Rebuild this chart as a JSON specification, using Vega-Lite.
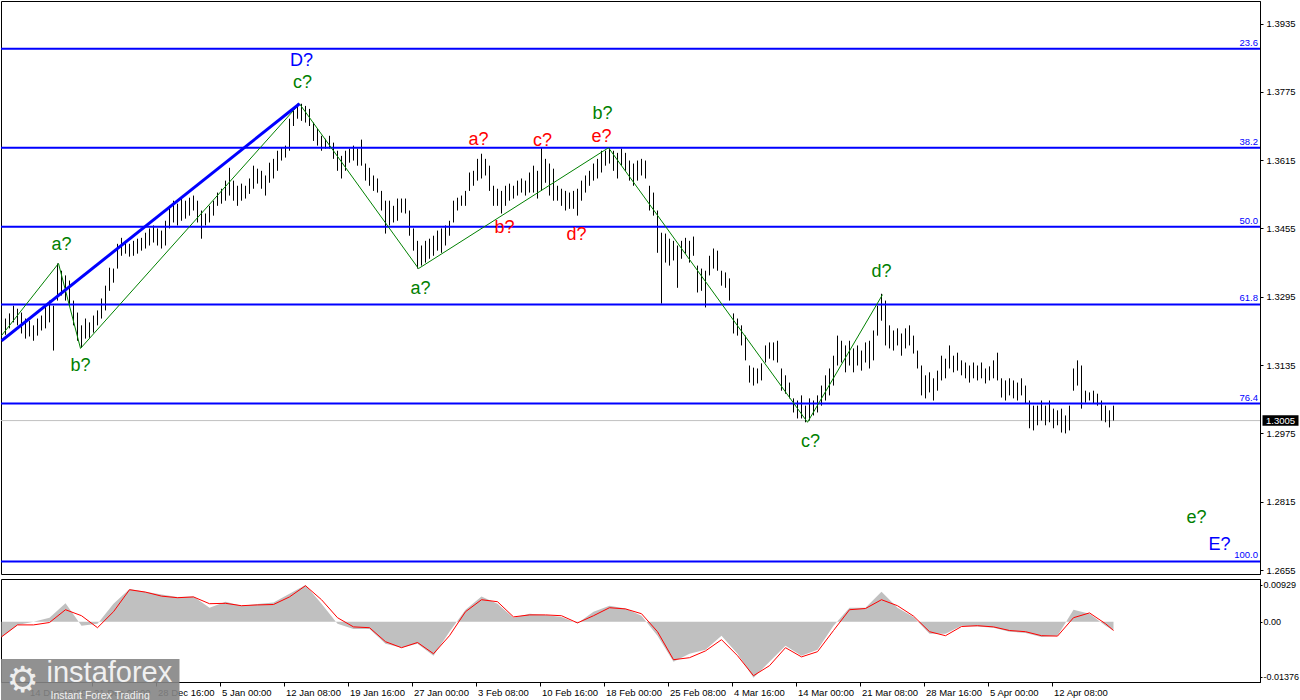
{
"$schema": "https://vega.github.io/schema/vega-lite/v6.json",
"padding": 0,
"background": "white",
"spacing": 2,
"config": {"view": {"stroke": "black", "strokeWidth": 1}, "axis": {"labelFont": "Liberation Sans", "labelFontSize": 9.5, "labelColor": "black", "domainColor": "black", "tickColor": "black", "grid": false}, "text": {"font": "Liberation Sans"}},
"datasets": {
"bars": [
{"b":0,"h":1.3235,"l":1.3197},{"b":2,"h":1.3244,"l":1.3206},{"b":4,"h":1.3256,"l":1.3221},{"b":6,"h":1.3274,"l":1.3235},{"b":8,"h":1.3267,"l":1.3228},{"b":10,"h":1.3258,"l":1.3209},{"b":12,"h":1.3244,"l":1.3197},{"b":14,"h":1.3239,"l":1.3202},{"b":16,"h":1.3228,"l":1.3192},{"b":18,"h":1.3244,"l":1.3204},
{"b":20,"h":1.3251,"l":1.3216},{"b":22,"h":1.3274,"l":1.3221},{"b":24,"h":1.3286,"l":1.3235},{"b":26,"h":1.3274,"l":1.3169},{"b":28,"h":1.3373,"l":1.3286},{"b":30,"h":1.3356,"l":1.3298},{"b":32,"h":1.3345,"l":1.3286},{"b":34,"h":1.3333,"l":1.3274},{"b":36,"h":1.3286,"l":1.3228},{"b":38,"h":1.3258,"l":1.3192},
{"b":40,"h":1.3228,"l":1.3176},{"b":42,"h":1.3244,"l":1.3197},{"b":44,"h":1.3235,"l":1.3199},{"b":46,"h":1.3251,"l":1.3211},{"b":48,"h":1.3263,"l":1.3228},{"b":50,"h":1.3291,"l":1.3244},{"b":52,"h":1.3321,"l":1.3263},{"b":54,"h":1.3363,"l":1.3309},{"b":56,"h":1.3361,"l":1.3328},{"b":58,"h":1.3419,"l":1.3361},
{"b":60,"h":1.3433,"l":1.3391},{"b":62,"h":1.3426,"l":1.3396},{"b":64,"h":1.3419,"l":1.3389},{"b":66,"h":1.3426,"l":1.3391},{"b":68,"h":1.3431,"l":1.3396},{"b":70,"h":1.3433,"l":1.3403},{"b":72,"h":1.3445,"l":1.3408},{"b":74,"h":1.3455,"l":1.3415},{"b":76,"h":1.3462,"l":1.3422},{"b":78,"h":1.3455,"l":1.3415},
{"b":80,"h":1.3450,"l":1.3408},{"b":82,"h":1.3473,"l":1.3415},{"b":84,"h":1.3508,"l":1.3455},{"b":86,"h":1.3520,"l":1.3469},{"b":88,"h":1.3513,"l":1.3462},{"b":90,"h":1.3525,"l":1.3473},{"b":92,"h":1.3520,"l":1.3478},{"b":94,"h":1.3527,"l":1.3485},{"b":96,"h":1.3532,"l":1.3497},{"b":98,"h":1.3520,"l":1.3469},
{"b":100,"h":1.3497,"l":1.3431},{"b":102,"h":1.3490,"l":1.3462},{"b":104,"h":1.3508,"l":1.3469},{"b":106,"h":1.3520,"l":1.3485},{"b":108,"h":1.3539,"l":1.3508},{"b":110,"h":1.3548,"l":1.3513},{"b":112,"h":1.3567,"l":1.3520},{"b":114,"h":1.3597,"l":1.3532},{"b":116,"h":1.3567,"l":1.3520},{"b":118,"h":1.3555,"l":1.3508},
{"b":120,"h":1.3560,"l":1.3520},{"b":122,"h":1.3555,"l":1.3525},{"b":124,"h":1.3572,"l":1.3536},{"b":126,"h":1.3602,"l":1.3548},{"b":128,"h":1.3595,"l":1.3560},{"b":130,"h":1.3590,"l":1.3548},{"b":132,"h":1.3579,"l":1.3532},{"b":134,"h":1.3609,"l":1.3562},{"b":136,"h":1.3618,"l":1.3572},{"b":138,"h":1.3637,"l":1.3590},
{"b":140,"h":1.3644,"l":1.3614},{"b":142,"h":1.3649,"l":1.3621},{"b":144,"h":1.3712,"l":1.3637},{"b":146,"h":1.3731,"l":1.3695},{"b":148,"h":1.3747,"l":1.3712},{"b":150,"h":1.3747,"l":1.3707},{"b":152,"h":1.3742,"l":1.3703},{"b":154,"h":1.3735,"l":1.3695},{"b":156,"h":1.3703,"l":1.3660},{"b":158,"h":1.3688,"l":1.3649},
{"b":160,"h":1.3672,"l":1.3637},{"b":162,"h":1.3665,"l":1.3642},{"b":164,"h":1.3672,"l":1.3642},{"b":166,"h":1.3656,"l":1.3618},{"b":168,"h":1.3637,"l":1.3590},{"b":170,"h":1.3625,"l":1.3572},{"b":172,"h":1.3637,"l":1.3590},{"b":174,"h":1.3642,"l":1.3609},{"b":176,"h":1.3649,"l":1.3614},{"b":178,"h":1.3642,"l":1.3602},
{"b":180,"h":1.3663,"l":1.3602},{"b":182,"h":1.3607,"l":1.3567},{"b":184,"h":1.3597,"l":1.3555},{"b":186,"h":1.3579,"l":1.3543},{"b":188,"h":1.3572,"l":1.3539},{"b":190,"h":1.3543,"l":1.3497},{"b":192,"h":1.3520,"l":1.3443},{"b":194,"h":1.3520,"l":1.3462},{"b":196,"h":1.3508,"l":1.3469},{"b":198,"h":1.3525,"l":1.3473},
{"b":200,"h":1.3525,"l":1.3492},{"b":202,"h":1.3525,"l":1.3490},{"b":204,"h":1.3497,"l":1.3438},{"b":206,"h":1.3455,"l":1.3403},{"b":208,"h":1.3426,"l":1.3361},{"b":210,"h":1.3415,"l":1.3368},{"b":212,"h":1.3426,"l":1.3375},{"b":214,"h":1.3431,"l":1.3384},{"b":216,"h":1.3438,"l":1.3391},{"b":218,"h":1.3450,"l":1.3403},
{"b":220,"h":1.3455,"l":1.3398},{"b":222,"h":1.3462,"l":1.3415},{"b":224,"h":1.3473,"l":1.3438},{"b":226,"h":1.3520,"l":1.3469},{"b":228,"h":1.3527,"l":1.3497},{"b":230,"h":1.3532,"l":1.3508},{"b":232,"h":1.3543,"l":1.3508},{"b":234,"h":1.3586,"l":1.3543},{"b":236,"h":1.3590,"l":1.3555},{"b":238,"h":1.3618,"l":1.3567},
{"b":240,"h":1.3630,"l":1.3572},{"b":242,"h":1.3618,"l":1.3579},{"b":244,"h":1.3602,"l":1.3543},{"b":246,"h":1.3555,"l":1.3508},{"b":248,"h":1.3548,"l":1.3508},{"b":250,"h":1.3543,"l":1.3490},{"b":252,"h":1.3555,"l":1.3508},{"b":254,"h":1.3560,"l":1.3520},{"b":256,"h":1.3555,"l":1.3525},{"b":258,"h":1.3567,"l":1.3532},
{"b":260,"h":1.3572,"l":1.3539},{"b":262,"h":1.3567,"l":1.3532},{"b":264,"h":1.3586,"l":1.3539},{"b":266,"h":1.3602,"l":1.3539},{"b":268,"h":1.3590,"l":1.3525},{"b":270,"h":1.3644,"l":1.3543},{"b":272,"h":1.3618,"l":1.3562},{"b":274,"h":1.3607,"l":1.3532},{"b":276,"h":1.3595,"l":1.3520},{"b":278,"h":1.3555,"l":1.3520},
{"b":280,"h":1.3548,"l":1.3508},{"b":282,"h":1.3543,"l":1.3497},{"b":284,"h":1.3539,"l":1.3501},{"b":286,"h":1.3543,"l":1.3501},{"b":288,"h":1.3548,"l":1.3485},{"b":290,"h":1.3567,"l":1.3520},{"b":292,"h":1.3579,"l":1.3539},{"b":294,"h":1.3590,"l":1.3555},{"b":296,"h":1.3607,"l":1.3567},{"b":298,"h":1.3618,"l":1.3572},
{"b":300,"h":1.3637,"l":1.3586},{"b":302,"h":1.3637,"l":1.3602},{"b":304,"h":1.3644,"l":1.3607},{"b":306,"h":1.3637,"l":1.3590},{"b":308,"h":1.3632,"l":1.3572},{"b":310,"h":1.3642,"l":1.3602},{"b":312,"h":1.3632,"l":1.3590},{"b":314,"h":1.3614,"l":1.3567},{"b":316,"h":1.3607,"l":1.3555},{"b":318,"h":1.3614,"l":1.3567},
{"b":320,"h":1.3618,"l":1.3579},{"b":322,"h":1.3614,"l":1.3572},{"b":324,"h":1.3555,"l":1.3497},{"b":326,"h":1.3539,"l":1.3485},{"b":328,"h":1.3497,"l":1.3398},{"b":330,"h":1.3445,"l":1.3279},{"b":332,"h":1.3443,"l":1.3375},{"b":334,"h":1.3431,"l":1.3368},{"b":336,"h":1.3426,"l":1.3380},{"b":338,"h":1.3415,"l":1.3316},
{"b":340,"h":1.3426,"l":1.3384},{"b":342,"h":1.3433,"l":1.3396},{"b":344,"h":1.3426,"l":1.3375},{"b":346,"h":1.3436,"l":1.3391},{"b":348,"h":1.3368,"l":1.3305},{"b":350,"h":1.3361,"l":1.3309},{"b":352,"h":1.3356,"l":1.3270},{"b":354,"h":1.3391,"l":1.3345},{"b":356,"h":1.3408,"l":1.3361},{"b":358,"h":1.3403,"l":1.3356},
{"b":360,"h":1.3356,"l":1.3321},{"b":362,"h":1.3352,"l":1.3316},{"b":364,"h":1.3338,"l":1.3286},{"b":366,"h":1.3256,"l":1.3209},{"b":368,"h":1.3244,"l":1.3204},{"b":370,"h":1.3228,"l":1.3181},{"b":372,"h":1.3204,"l":1.3146},{"b":374,"h":1.3134,"l":1.3094},{"b":376,"h":1.3129,"l":1.3087},{"b":378,"h":1.3127,"l":1.3092},
{"b":380,"h":1.3139,"l":1.3099},{"b":382,"h":1.3181,"l":1.3141},{"b":384,"h":1.3188,"l":1.3150},{"b":386,"h":1.3188,"l":1.3146},{"b":388,"h":1.3192,"l":1.3141},{"b":390,"h":1.3127,"l":1.3075},{"b":392,"h":1.3111,"l":1.3068},{"b":394,"h":1.3094,"l":1.3057},{"b":396,"h":1.3057,"l":1.3024},{"b":398,"h":1.3052,"l":1.3010},
{"b":400,"h":1.3064,"l":1.3010},{"b":402,"h":1.3040,"l":1.3001},{"b":404,"h":1.3057,"l":1.3005},{"b":406,"h":1.3052,"l":1.3017},{"b":408,"h":1.3064,"l":1.3024},{"b":410,"h":1.3087,"l":1.3040},{"b":412,"h":1.3111,"l":1.3052},{"b":414,"h":1.3127,"l":1.3064},{"b":416,"h":1.3157,"l":1.3087},{"b":418,"h":1.3204,"l":1.3134},
{"b":420,"h":1.3192,"l":1.3141},{"b":422,"h":1.3181,"l":1.3118},{"b":424,"h":1.3192,"l":1.3134},{"b":426,"h":1.3174,"l":1.3118},{"b":428,"h":1.3181,"l":1.3134},{"b":430,"h":1.3169,"l":1.3122},{"b":432,"h":1.3188,"l":1.3141},{"b":434,"h":1.3192,"l":1.3127},{"b":436,"h":1.3216,"l":1.3146},{"b":438,"h":1.3274,"l":1.3204},
{"b":440,"h":1.3302,"l":1.3239},{"b":442,"h":1.3286,"l":1.3181},{"b":444,"h":1.3228,"l":1.3174},{"b":446,"h":1.3216,"l":1.3169},{"b":448,"h":1.3221,"l":1.3181},{"b":450,"h":1.3209,"l":1.3157},{"b":452,"h":1.3221,"l":1.3174},{"b":454,"h":1.3228,"l":1.3181},{"b":456,"h":1.3204,"l":1.3162},{"b":458,"h":1.3169,"l":1.3127},
{"b":460,"h":1.3134,"l":1.3064},{"b":462,"h":1.3111,"l":1.3057},{"b":464,"h":1.3118,"l":1.3071},{"b":466,"h":1.3104,"l":1.3052},{"b":468,"h":1.3122,"l":1.3075},{"b":470,"h":1.3157,"l":1.3099},{"b":472,"h":1.3150,"l":1.3104},{"b":474,"h":1.3181,"l":1.3127},{"b":476,"h":1.3157,"l":1.3118},{"b":478,"h":1.3164,"l":1.3122},
{"b":480,"h":1.3146,"l":1.3111},{"b":482,"h":1.3141,"l":1.3104},{"b":484,"h":1.3134,"l":1.3094},{"b":486,"h":1.3141,"l":1.3104},{"b":488,"h":1.3134,"l":1.3099},{"b":490,"h":1.3141,"l":1.3104},{"b":492,"h":1.3127,"l":1.3092},{"b":494,"h":1.3132,"l":1.3099},{"b":496,"h":1.3146,"l":1.3104},{"b":498,"h":1.3164,"l":1.3099},
{"b":500,"h":1.3104,"l":1.3059},{"b":502,"h":1.3099,"l":1.3052},{"b":504,"h":1.3104,"l":1.3064},{"b":506,"h":1.3099,"l":1.3057},{"b":508,"h":1.3094,"l":1.3052},{"b":510,"h":1.3104,"l":1.3064},{"b":512,"h":1.3087,"l":1.3045},{"b":514,"h":1.3052,"l":1.2987},{"b":516,"h":1.3040,"l":1.2982},{"b":518,"h":1.3040,"l":1.2994},
{"b":520,"h":1.3052,"l":1.3005},{"b":522,"h":1.3040,"l":1.2994},{"b":524,"h":1.3052,"l":1.3001},{"b":526,"h":1.3033,"l":1.2987},{"b":528,"h":1.3029,"l":1.2994},{"b":530,"h":1.3033,"l":1.2977},{"b":532,"h":1.3017,"l":1.2975},{"b":534,"h":1.3040,"l":1.2982},{"b":536,"h":1.3127,"l":1.3075},{"b":538,"h":1.3146,"l":1.3087},
{"b":540,"h":1.3134,"l":1.3033},{"b":542,"h":1.3075,"l":1.3047},{"b":544,"h":1.3071,"l":1.3052},{"b":546,"h":1.3075,"l":1.3045},{"b":548,"h":1.3068,"l":1.3040},{"b":550,"h":1.3052,"l":1.3005},{"b":552,"h":1.3040,"l":1.3001},{"b":554,"h":1.3029,"l":1.2989},{"b":556,"h":1.3040,"l":1.3005}
],
"macd": [
{"b":0,"m":-0.0038,"s":-0.0038},{"b":8,"m":-0.0008,"s":-0.0008},{"b":16,"m":0.0000,"s":-0.0008},{"b":24,"m":0.0010,"s":-0.0002},{"b":32,"m":0.0046,"s":0.0030},{"b":40,"m":-0.0010,"s":0.0015},{"b":48,"m":-0.0005,"s":-0.0015},{"b":56,"m":0.0045,"s":0.0025},{"b":64,"m":0.0082,"s":0.0080},{"b":72,"m":0.0075,"s":0.0074},
{"b":80,"m":0.0068,"s":0.0064},{"b":88,"m":0.0062,"s":0.0060},{"b":96,"m":0.0063,"s":0.0062},{"b":104,"m":0.0035,"s":0.0045},{"b":112,"m":0.0050,"s":0.0046},{"b":120,"m":0.0040,"s":0.0040},{"b":128,"m":0.0044,"s":0.0042},{"b":136,"m":0.0048,"s":0.0043},{"b":144,"m":0.0070,"s":0.0062},{"b":152,"m":0.0092,"s":0.0090},
{"b":160,"m":0.0045,"s":0.0055},{"b":168,"m":-0.0005,"s":0.0010},{"b":176,"m":-0.0018,"s":-0.0013},{"b":184,"m":-0.0018,"s":-0.0015},{"b":192,"m":-0.0055,"s":-0.0050},{"b":200,"m":-0.0065,"s":-0.0065},{"b":208,"m":-0.0055,"s":-0.0052},{"b":216,"m":-0.0085,"s":-0.0080},{"b":224,"m":-0.0025,"s":-0.0035},{"b":232,"m":0.0030,"s":0.0025},
{"b":240,"m":0.0063,"s":0.0055},{"b":248,"m":0.0045,"s":0.0050},{"b":256,"m":0.0010,"s":0.0012},{"b":264,"m":0.0020,"s":0.0017},{"b":272,"m":0.0017,"s":0.0017},{"b":280,"m":0.0012,"s":0.0015},{"b":288,"m":-0.0004,"s":-0.0003},{"b":296,"m":0.0025,"s":0.0015},{"b":304,"m":0.0040,"s":0.0035},{"b":312,"m":0.0033,"s":0.0032},
{"b":320,"m":0.0015,"s":0.0020},{"b":328,"m":-0.0035,"s":-0.0025},{"b":336,"m":-0.0100,"s":-0.0095},{"b":344,"m":-0.0080,"s":-0.0090},{"b":352,"m":-0.0070,"s":-0.0073},{"b":360,"m":-0.0035,"s":-0.0045},{"b":368,"m":-0.0080,"s":-0.0085},{"b":376,"m":-0.0140,"s":-0.0135},{"b":384,"m":-0.0100,"s":-0.0110},{"b":392,"m":-0.0060,"s":-0.0065},
{"b":400,"m":-0.0085,"s":-0.0088},{"b":408,"m":-0.0070,"s":-0.0075},{"b":416,"m":-0.0010,"s":-0.0022},{"b":424,"m":0.0035,"s":0.0030},{"b":432,"m":0.0035,"s":0.0033},{"b":440,"m":0.0075,"s":0.0055},{"b":448,"m":0.0035,"s":0.0040},{"b":456,"m":0.0012,"s":0.0014},{"b":464,"m":-0.0030,"s":-0.0025},{"b":472,"m":-0.0030,"s":-0.0035},
{"b":480,"m":-0.0010,"s":-0.0012},{"b":488,"m":-0.0012,"s":-0.0010},{"b":496,"m":-0.0015,"s":-0.0013},{"b":504,"m":-0.0025,"s":-0.0022},{"b":512,"m":-0.0028,"s":-0.0025},{"b":520,"m":-0.0038,"s":-0.0035},{"b":528,"m":-0.0035,"s":-0.0036},{"b":536,"m":0.0030,"s":0.0010},{"b":544,"m":0.0020,"s":0.0022},{"b":552,"m":-0.0010,"s":-0.0005},
{"b":556,"m":-0.0022,"s":-0.0022}
],
"fib": [{"lv":"23.6","p":1.3876},{"lv":"38.2","p":1.3644},{"lv":"50.0","p":1.3459},{"lv":"61.8","p":1.3277},{"lv":"76.4","p":1.3045},{"lv":"100.0","p":1.2675}],
"zz": [{"b":0,"p":1.3204},{"b":28.5,"p":1.3373},{"b":39.5,"p":1.3174},{"b":149,"p":1.3747},{"b":208.5,"p":1.3361},{"b":303.5,"p":1.3644},{"b":403,"p":1.3001},{"b":440.5,"p":1.3300}],
"chan": [{"b":0,"p":1.3192},{"b":149,"p":1.3747}],
"waves": [
{"b":150,"p":1.3848,"t":"D?","deg":"major"},{"b":150.5,"p":1.3796,"t":"c?","deg":"minor"},{"b":30,"p":1.3417,"t":"a?","deg":"minor"},{"b":39.5,"p":1.3132,"t":"b?","deg":"minor"},{"b":209.5,"p":1.3314,"t":"a?","deg":"minor"},
{"b":238.5,"p":1.3663,"t":"a?","deg":"sub"},{"b":251.5,"p":1.3455,"t":"b?","deg":"sub"},{"b":270.5,"p":1.3660,"t":"c?","deg":"sub"},{"b":287.5,"p":1.3440,"t":"d?","deg":"sub"},{"b":300,"p":1.3670,"t":"e?","deg":"sub"},
{"b":300.5,"p":1.3724,"t":"b?","deg":"minor"},{"b":404.5,"p":1.2956,"t":"c?","deg":"minor"},{"b":440,"p":1.3352,"t":"d?","deg":"minor"},{"b":597.5,"p":1.2778,"t":"e?","deg":"minor"},{"b":609,"p":1.2713,"t":"E?","deg":"major"}
],
"last": [{"p":1.3005,"t":"1.3005"}]
},
"vconcat": [
{
"width": 1259, "height": 573,
"layer": [
{"data": {"name": "last"}, "mark": {"type": "rule", "color": "#c0c0c0", "strokeWidth": 1, "clip": true},
 "encoding": {"y": {"field": "p", "type": "quantitative", "title": null, "scale": {"domain": [1.26457, 1.39877], "nice": false, "zero": false},
  "axis": {"orient": "right", "values": [1.2655,1.2735,1.2815,1.2895,1.2975,1.3055,1.3135,1.3215,1.3295,1.3375,1.3455,1.3535,1.3615,1.3695,1.3775,1.3855,1.3935], "format": ".4f", "tickSize": 3, "labelPadding": 3, "title": null}}}},
{"data": {"name": "bars"}, "mark": {"type": "rule", "color": "black", "strokeWidth": 1},
 "encoding": {"x": {"field": "b", "type": "quantitative", "title": null, "scale": {"domain": [-0.25, 629.25], "nice": false, "zero": false}, "axis": null},
  "y": {"field": "l", "type": "quantitative", "title": null}, "y2": {"field": "h"}}},
{"data": {"name": "fib"}, "mark": {"type": "rule", "color": "#0000ff", "strokeWidth": 2, "clip": true},
 "encoding": {"y": {"field": "p", "type": "quantitative", "title": null}}},
{"data": {"name": "fib"}, "mark": {"type": "text", "color": "#0000ff", "fontSize": 9.5, "align": "right", "baseline": "bottom", "dx": -2, "dy": -1},
 "encoding": {"x": {"datum": 629.25, "type": "quantitative"}, "y": {"field": "p", "type": "quantitative", "title": null}, "text": {"field": "lv"}}},
{"data": {"name": "zz"}, "mark": {"type": "line", "color": "#008000", "strokeWidth": 1, "clip": true},
 "encoding": {"x": {"field": "b", "type": "quantitative", "title": null}, "y": {"field": "p", "type": "quantitative", "title": null}}},
{"data": {"name": "chan"}, "mark": {"type": "line", "color": "#0000ff", "strokeWidth": 3, "clip": true},
 "encoding": {"x": {"field": "b", "type": "quantitative", "title": null}, "y": {"field": "p", "type": "quantitative", "title": null}}},
{"data": {"name": "waves"}, "mark": {"type": "text", "baseline": "middle", "align": "center"},
 "encoding": {"x": {"field": "b", "type": "quantitative", "title": null}, "y": {"field": "p", "type": "quantitative", "title": null}, "text": {"field": "t"},
  "color": {"field": "deg", "type": "nominal", "scale": {"domain": ["minor","sub","major"], "range": ["#008000","#ff0000","#0000ff"]}, "legend": null},
  "size": {"field": "deg", "type": "nominal", "scale": {"domain": ["minor","sub","major"], "range": [18,18,20]}, "legend": null}}},
{"data": {"name": "last"}, "mark": {"type": "point", "shape": "M-1,-0.29L1,-0.29L1,0.29L-1,0.29Z", "size": 1296, "filled": true, "color": "black", "opacity": 1, "clip": false},
 "encoding": {"x": {"datum": 639.5, "type": "quantitative"}, "y": {"field": "p", "type": "quantitative", "title": null}}},
{"data": {"name": "last"}, "mark": {"type": "text", "color": "white", "fontSize": 9.5, "align": "center", "baseline": "middle", "clip": false},
 "encoding": {"x": {"datum": 639.5, "type": "quantitative"}, "y": {"field": "p", "type": "quantitative", "title": null}, "text": {"field": "t"}}}
]
},
{
"width": 1259, "height": 103,
"layer": [
{"data": {"name": "macd"}, "mark": {"type": "area", "color": "#c0c0c0", "opacity": 1, "clip": true},
 "encoding": {"x": {"field": "b", "type": "quantitative", "title": null, "scale": {"domain": [-0.25, 629.25], "nice": false, "zero": false},
   "axis": {"values": [13,45,77,109,141,173,205,237,269,301,333,365,397,429,461,493,525], "labelExpr": "['14 Dec 08:00','21 Dec 08:00','28 Dec 16:00','5 Jan 00:00','12 Jan 08:00','19 Jan 16:00','27 Jan 00:00','3 Feb 08:00','10 Feb 16:00','18 Feb 00:00','25 Feb 08:00','4 Mar 16:00','14 Mar 00:00','21 Mar 08:00','28 Mar 16:00','5 Apr 00:00','12 Apr 08:00'][round((datum.value-13)/32)]", "labelAlign": "left", "labelOffset": 2, "tickSize": 4, "labelPadding": 1, "labelBaseline": "top", "title": null}},
  "y": {"field": "m", "type": "quantitative", "title": null, "scale": {"domain": [-0.01508, 0.01068], "nice": false, "zero": false},
   "axis": {"orient": "right", "values": [-0.01376, 0, 0.00929], "labelExpr": "datum.value == 0 ? '0.00' : (datum.value < 0 ? '-' + format(-datum.value, '.5f') : format(datum.value, '.5f'))", "tickSize": 2, "labelPadding": 1, "labelFontSize": 9, "title": null}},
  "y2": {"datum": 0}}},
{"data": {"name": "macd"}, "mark": {"type": "line", "color": "#ff0000", "strokeWidth": 1, "clip": true},
 "encoding": {"x": {"field": "b", "type": "quantitative", "title": null}, "y": {"field": "s", "type": "quantitative", "title": null}}},
{"data": {"values": [{"k": "logo"}]}, "mark": {"type": "rect", "color": "#858585", "opacity": 0.9, "clip": false},
 "encoding": {"x": {"datum": -0.25, "type": "quantitative"}, "x2": {"datum": 89}, "y": {"datum": -0.0093, "type": "quantitative"}, "y2": {"datum": -0.0206}}},
{"data": {"values": [{"t": "⚙"}]}, "mark": {"type": "text", "color": "#eeeeee", "fontSize": 36, "font": "DejaVu Sans", "align": "left", "baseline": "middle", "clip": false},
 "encoding": {"x": {"datum": 2.5, "type": "quantitative"}, "y": {"datum": -0.0148, "type": "quantitative"}, "text": {"field": "t"}}},
{"data": {"values": [{"t": "instaforex"}]}, "mark": {"type": "text", "color": "#f0f0f0", "fontSize": 29, "align": "left", "baseline": "alphabetic", "clip": false},
 "encoding": {"x": {"datum": 22.5, "type": "quantitative"}, "y": {"datum": -0.0152, "type": "quantitative"}, "text": {"field": "t"}}},
{"data": {"values": [{"t": "Instant Forex Trading"}]}, "mark": {"type": "text", "color": "#f0f0f0", "fontSize": 10.5, "align": "left", "baseline": "middle", "clip": false},
 "encoding": {"x": {"datum": 24.5, "type": "quantitative"}, "y": {"datum": -0.0186, "type": "quantitative"}, "text": {"field": "t"}}}
]
}
]
}
